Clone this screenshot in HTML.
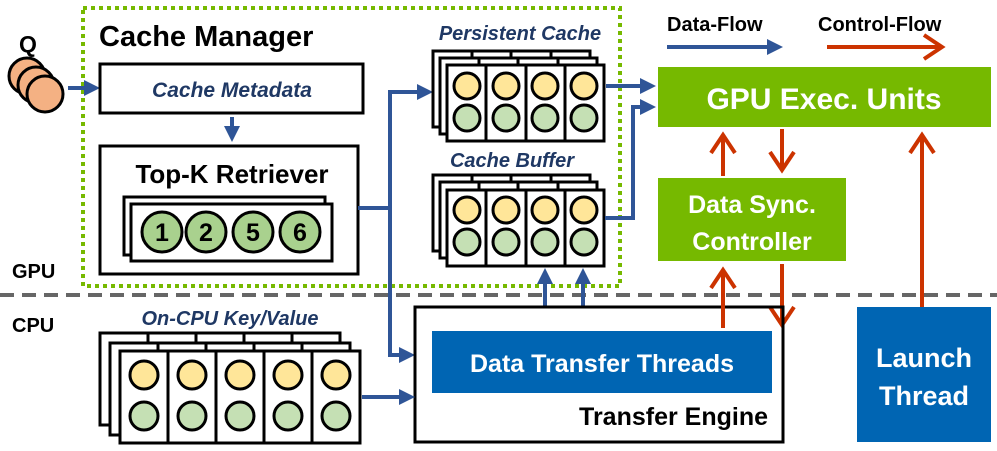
<!DOCTYPE html>
<html><head><meta charset="utf-8"><style>
html,body{margin:0;padding:0;background:#fff;}
svg{display:block;font-family:"Liberation Sans",sans-serif;}
.b{font-weight:bold;}
.it{font-style:italic;font-weight:bold;fill:#1f3864;}
.w{fill:#fff;font-weight:bold;}
</style></head><body>
<svg width="997" height="451" viewBox="0 0 997 451" xmlns="http://www.w3.org/2000/svg">
<defs>
<marker id="ab" markerWidth="4" markerHeight="4" refX="3" refY="2" orient="auto" markerUnits="strokeWidth"><path d="M0,0 L4,2 L0,4 Z" fill="#2f5597"/></marker>
<marker id="ar" markerWidth="7" markerHeight="7" refX="5" refY="3.5" orient="auto" markerUnits="strokeWidth"><path d="M0.5,0.5 L5,3.5 L0.5,6.5" fill="none" stroke="#cc3300" stroke-width="1"/></marker>
</defs>

<line x1="0" y1="295" x2="997" y2="295" stroke="#666" stroke-width="4" stroke-dasharray="14,8"/>
<text x="12" y="278" class="b" font-size="20">GPU</text>
<text x="12" y="332" class="b" font-size="20">CPU</text>

<rect x="83" y="8" width="537" height="278" fill="none" stroke="#76b900" stroke-width="4" stroke-dasharray="4,4"/>
<text x="99" y="46" class="b" font-size="29">Cache Manager</text>

<text x="19" y="52" class="b" font-size="23">Q</text>
<g fill="#f4b183" stroke="#000" stroke-width="3">
<circle cx="27" cy="76" r="18"/><circle cx="36" cy="85" r="18"/><circle cx="45" cy="94" r="18"/>
</g>
<line x1="68" y1="88" x2="96" y2="88" stroke="#2f5597" stroke-width="4" marker-end="url(#ab)"/>

<rect x="100" y="64" width="263" height="49" fill="#fff" stroke="#000" stroke-width="3"/>
<text x="232" y="97" class="it" font-size="21" text-anchor="middle">Cache Metadata</text>
<line x1="232" y1="117" x2="232" y2="138" stroke="#2f5597" stroke-width="4" marker-end="url(#ab)"/>

<rect x="100" y="146" width="258" height="128" fill="#fff" stroke="#000" stroke-width="3"/>
<text x="232" y="183" class="b" font-size="26" text-anchor="middle">Top-K Retriever</text>
<rect x="124" y="197" width="201" height="58" fill="#fff" stroke="#000" stroke-width="3"/>
<rect x="131" y="204" width="201" height="57" fill="#fff" stroke="#000" stroke-width="3"/>
<g fill="#a9d18e" stroke="#000" stroke-width="3">
<circle cx="162" cy="232" r="20"/><circle cx="206" cy="232" r="20"/><circle cx="253" cy="232" r="20"/><circle cx="300" cy="232" r="20"/>
</g>
<g class="b" font-size="25" text-anchor="middle">
<text x="162" y="241">1</text><text x="206" y="241">2</text><text x="253" y="241">5</text><text x="300" y="241">6</text>
</g>

<polyline points="358,208 390,208" fill="none" stroke="#2f5597" stroke-width="4"/>
<polyline points="390,355 390,92 429,92" fill="none" stroke="#2f5597" stroke-width="4" marker-end="url(#ab)"/>
<polyline points="390,300 390,355 411,355" fill="none" stroke="#2f5597" stroke-width="4" marker-end="url(#ab)"/>

<text x="520" y="40" class="it" font-size="20" text-anchor="middle">Persistent Cache</text>
<g stroke="#000" stroke-width="3" fill="#fff">
<rect x="433" y="51" width="157" height="76"/>
<line x1="472" y1="51" x2="472" y2="58"/><line x1="511" y1="51" x2="511" y2="58"/><line x1="551" y1="51" x2="551" y2="58"/>
<rect x="440" y="58" width="157" height="76"/>
<line x1="479" y1="58" x2="479" y2="65"/><line x1="518" y1="58" x2="518" y2="65"/><line x1="558" y1="58" x2="558" y2="65"/>
<rect x="447" y="65" width="157" height="76"/>
<line x1="486" y1="65" x2="486" y2="141"/><line x1="526" y1="65" x2="526" y2="141"/><line x1="565" y1="65" x2="565" y2="141"/>
</g>
<g stroke="#000" stroke-width="3">
<g fill="#ffe699"><circle cx="467" cy="86" r="13"/><circle cx="506" cy="86" r="13"/><circle cx="545" cy="86" r="13"/><circle cx="584" cy="86" r="13"/></g>
<g fill="#c5e0b4"><circle cx="467" cy="118" r="13"/><circle cx="506" cy="118" r="13"/><circle cx="545" cy="118" r="13"/><circle cx="584" cy="118" r="13"/></g>
</g>

<text x="512" y="167" class="it" font-size="20" text-anchor="middle">Cache Buffer</text>
<g stroke="#000" stroke-width="3" fill="#fff">
<rect x="433" y="175" width="157" height="76"/>
<line x1="472" y1="175" x2="472" y2="182"/><line x1="511" y1="175" x2="511" y2="182"/><line x1="551" y1="175" x2="551" y2="182"/>
<rect x="440" y="182" width="157" height="76"/>
<line x1="479" y1="182" x2="479" y2="190"/><line x1="518" y1="182" x2="518" y2="190"/><line x1="558" y1="182" x2="558" y2="190"/>
<rect x="447" y="190" width="157" height="76"/>
<line x1="486" y1="190" x2="486" y2="266"/><line x1="526" y1="190" x2="526" y2="266"/><line x1="565" y1="190" x2="565" y2="266"/>
</g>
<g stroke="#000" stroke-width="3">
<g fill="#ffe699"><circle cx="467" cy="210" r="13"/><circle cx="506" cy="210" r="13"/><circle cx="545" cy="210" r="13"/><circle cx="584" cy="210" r="13"/></g>
<g fill="#c5e0b4"><circle cx="467" cy="242" r="13"/><circle cx="506" cy="242" r="13"/><circle cx="545" cy="242" r="13"/><circle cx="584" cy="242" r="13"/></g>
</g>

<line x1="606" y1="86" x2="652" y2="86" stroke="#2f5597" stroke-width="4" marker-end="url(#ab)"/>
<polyline points="605,218 633,218 633,107 652,107" fill="none" stroke="#2f5597" stroke-width="4" marker-end="url(#ab)"/>
<line x1="545" y1="306" x2="545" y2="272" stroke="#2f5597" stroke-width="4" marker-end="url(#ab)"/>
<line x1="583" y1="306" x2="583" y2="272" stroke="#2f5597" stroke-width="4" marker-end="url(#ab)"/>

<text x="667" y="31" class="b" font-size="20">Data-Flow</text>
<line x1="667" y1="47" x2="779" y2="47" stroke="#2f5597" stroke-width="4" marker-end="url(#ab)"/>
<text x="818" y="31" class="b" font-size="20">Control-Flow</text>
<line x1="827" y1="47" x2="942" y2="47" stroke="#cc3300" stroke-width="4" marker-end="url(#ar)"/>

<rect x="658" y="67" width="333" height="60" fill="#76b900"/>
<text x="824" y="109" class="w" font-size="30" text-anchor="middle">GPU Exec. Units</text>
<rect x="658" y="178" width="188" height="83" fill="#76b900"/>
<text x="752" y="213" class="w" font-size="25" text-anchor="middle">Data Sync.</text>
<text x="752" y="250" class="w" font-size="25" text-anchor="middle">Controller</text>

<g stroke="#cc3300" stroke-width="4" fill="none">
<line x1="723" y1="176" x2="723" y2="135" marker-end="url(#ar)"/>
<line x1="782" y1="129" x2="782" y2="170" marker-end="url(#ar)"/>
<line x1="922" y1="307" x2="922" y2="135" marker-end="url(#ar)"/>
<line x1="723" y1="326" x2="723" y2="270" marker-end="url(#ar)"/>
<line x1="782" y1="264" x2="782" y2="325" marker-end="url(#ar)"/>
</g>

<rect x="415" y="307" width="368" height="135" fill="none" stroke="#000" stroke-width="3"/>
<rect x="432" y="331" width="340" height="62" fill="#0065b3"/>
<text x="602" y="372" class="w" font-size="25" text-anchor="middle">Data Transfer Threads</text>
<text x="768" y="425" class="b" font-size="25" text-anchor="end">Transfer Engine</text>
<line x1="723" y1="305" x2="723" y2="328" stroke="#cc3300" stroke-width="4"/>

<rect x="857" y="307" width="134" height="135" fill="#0065b3"/>
<text x="924" y="367" class="w" font-size="27" text-anchor="middle">Launch</text>
<text x="924" y="405" class="w" font-size="27" text-anchor="middle">Thread</text>

<text x="230" y="325" class="it" font-size="20" text-anchor="middle">On-CPU Key/Value</text>
<g stroke="#000" stroke-width="3" fill="#fff">
<rect x="100" y="333" width="240" height="92"/>
<line x1="148" y1="333" x2="148" y2="343"/><line x1="196" y1="333" x2="196" y2="343"/><line x1="244" y1="333" x2="244" y2="343"/><line x1="292" y1="333" x2="292" y2="343"/>
<rect x="110" y="343" width="240" height="92"/>
<line x1="158" y1="343" x2="158" y2="351"/><line x1="206" y1="343" x2="206" y2="351"/><line x1="254" y1="343" x2="254" y2="351"/><line x1="302" y1="343" x2="302" y2="351"/>
<rect x="120" y="351" width="240" height="92"/>
<line x1="168" y1="351" x2="168" y2="443"/><line x1="216" y1="351" x2="216" y2="443"/><line x1="264" y1="351" x2="264" y2="443"/><line x1="312" y1="351" x2="312" y2="443"/>
</g>
<g stroke="#000" stroke-width="3">
<g fill="#ffe699"><circle cx="144" cy="375" r="14"/><circle cx="192" cy="375" r="14"/><circle cx="240" cy="375" r="14"/><circle cx="288" cy="375" r="14"/><circle cx="336" cy="375" r="14"/></g>
<g fill="#c5e0b4"><circle cx="144" cy="416" r="14"/><circle cx="192" cy="416" r="14"/><circle cx="240" cy="416" r="14"/><circle cx="288" cy="416" r="14"/><circle cx="336" cy="416" r="14"/></g>
</g>
<line x1="362" y1="397" x2="411" y2="397" stroke="#2f5597" stroke-width="4" marker-end="url(#ab)"/>
</svg>
</body></html>
